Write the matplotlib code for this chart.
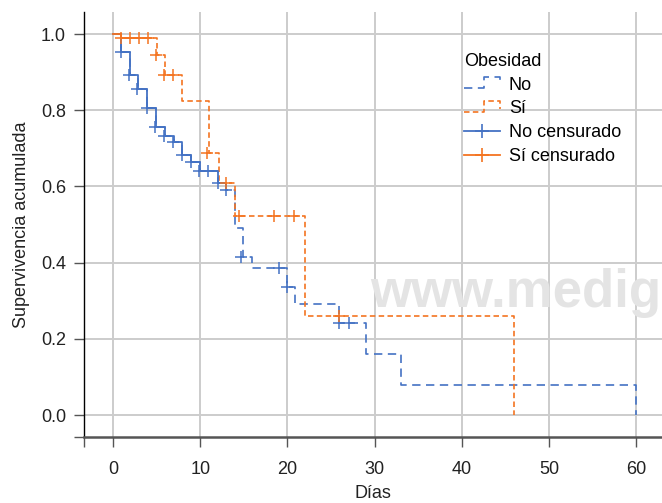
import matplotlib
matplotlib.use('Agg')
import matplotlib.pyplot as plt
from matplotlib.lines import Line2D
import numpy as np

plt.rcParams['font.family'] = ['Liberation Sans', 'DejaVu Sans']

# curvas de supervivencia (Kaplan-Meier)
t_no = [0, 0.9, 1.9, 2.9, 3.95, 4.95, 5.95, 6.95, 7.95, 8.95, 9.95, 12.0, 12.9, 14.0, 14.9, 15.9, 19.9, 20.9, 25.9, 29.0, 33.0, 60.0]
s_no = [1.0, 0.952, 0.892, 0.857, 0.805, 0.757, 0.732, 0.717, 0.682, 0.663, 0.641, 0.608, 0.592, 0.49, 0.415, 0.385, 0.337, 0.291, 0.241, 0.16, 0.079, 0.0]
t_si = [0, 0.9, 5.0, 6.0, 7.95, 11.0, 12.1, 14.0, 22.0, 46.0]
s_si = [1.0, 0.989, 0.945, 0.892, 0.824, 0.687, 0.608, 0.522, 0.26, 0.0]

# casos censurados
cens_no_t = [0.9, 1.8, 2.8, 3.85, 4.8, 5.85, 6.85, 7.9, 8.9, 9.9, 10.9, 12.0, 12.9, 14.7, 19.0, 20.0, 25.9, 27.1]
cens_no_s = [0.952, 0.892, 0.857, 0.805, 0.757, 0.732, 0.717, 0.682, 0.663, 0.641, 0.641, 0.608, 0.592, 0.415, 0.385, 0.337, 0.241, 0.241]
cens_si_t = [0.9, 1.95, 3.0, 3.97, 4.9, 5.9, 6.9, 10.8, 13.0, 14.5, 18.5, 20.8, 25.9]
cens_si_s = [0.989, 0.989, 0.989, 0.989, 0.945, 0.892, 0.892, 0.687, 0.608, 0.522, 0.522, 0.522, 0.26]

azul = '#4472c4'
naranja = '#f47421'


def recorta(t, s, hasta):
    tt = [x for x in t if x <= hasta]
    ss = s[:len(tt)]
    return tt + [hasta], ss + [ss[-1]]


class EscalonHandler:
    def __init__(self, color, dashes):
        self.color = color
        self.dashes = dashes

    def legend_artist(self, legend, orig_handle, fontsize, handlebox):
        x0, y0 = -handlebox.xdescent, -handlebox.ydescent
        w, h = handlebox.width, handlebox.height
        ln = Line2D([x0, x0 + w * 0.55, x0 + w * 0.55, x0 + w, x0 + w],
                    [y0 + 1, y0 + 1, y0 + h, y0 + h, y0 + 3],
                    color=self.color, lw=1.2, linestyle=(0, self.dashes))
        ln.set_transform(handlebox.get_transform())
        handlebox.add_artist(ln)
        return ln


fig = plt.figure(figsize=(6.62, 5.03), dpi=100)
ax = fig.add_axes([84 / 662, 66 / 503, 1 - 84 / 662, 425 / 503])

ax.set_xlim(-3.33, 62.96)
ax.set_ylim(-0.0577, 1.058)

ax.grid(True, color='#cccccc', lw=1.4, zorder=0)
ax.set_axisbelow(True)

ax.text(370 / 662, 196 / 503, 'www.medigraphic.com', transform=fig.transFigure,
        fontsize=38, fontweight='bold', color='#e4e4e4', zorder=1, clip_on=True)

l_no, = ax.plot(t_no, s_no, drawstyle='steps-post', color=azul, lw=1.2,
                linestyle=(0, (5, 3.3)), zorder=3)
l_si, = ax.plot(t_si, s_si, drawstyle='steps-post', color=naranja, lw=1.2,
                linestyle=(0, (3.3, 2)), zorder=3)

# tramos continuos al inicio
tt, ss = recorta(t_no, s_no, 13.0)
ax.plot(tt, ss, drawstyle='steps-post', color=azul, lw=1.3, zorder=4)
tt, ss = recorta(t_si, s_si, 4.4)
ax.plot(tt, ss, drawstyle='steps-post', color=naranja, lw=1.3, zorder=4)

c_no, = ax.plot(cens_no_t, cens_no_s, '+', color=azul, ms=8, mew=1.1, zorder=5)
c_si, = ax.plot(cens_si_t, cens_si_s, '+', color=naranja, ms=8, mew=1.1, zorder=5)

h_no = Line2D([], [], color=azul, marker='+', ms=10, mew=1.2, lw=1.3)
h_si = Line2D([], [], color=naranja, marker='+', ms=10, mew=1.2, lw=1.3)

leg = fig.legend([l_no, l_si, h_no, h_si], ['No', 'Sí', 'No censurado', 'Sí censurado'],
                 title='Obesidad', loc='upper left', bbox_to_anchor=(451 / 662, 1 - 40 / 503),
                 frameon=False, fontsize=13, title_fontsize=13, alignment='left',
                 handlelength=2.0, handletextpad=0.5, labelspacing=0.38,
                 borderpad=0.2,
                 handler_map={l_no: EscalonHandler(azul, (5, 3.3)),
                              l_si: EscalonHandler(naranja, (3.3, 2))})

ax.set_xticks(np.arange(0, 61, 10))
ax.set_yticks(np.arange(0, 1.01, 0.2))
ax.set_yticklabels(['%.1f' % v for v in np.arange(0, 1.01, 0.2)])
ax.set_xticks([-3.33], minor=True)
ax.set_yticks([-0.0577], minor=True)
ax.tick_params(axis='both', which='both', direction='out', length=7, width=1.0,
               color='#555555', labelsize=13, labelcolor='#222222')
ax.tick_params(axis='x', pad=10)
ax.tick_params(axis='y', pad=6)

ax.spines['top'].set_visible(False)
ax.spines['right'].set_visible(False)
ax.spines['left'].set_color('black')
ax.spines['left'].set_linewidth(1.0)
ax.spines['bottom'].set_color('#555555')
ax.spines['bottom'].set_linewidth(1.8)

ax.set_xlabel('Días', fontsize=13, color='#222222', labelpad=5)
ax.set_ylabel('Supervivencia acumulada', fontsize=13, color='#222222', labelpad=8)

fig.savefig('out.png', dpi=100)
